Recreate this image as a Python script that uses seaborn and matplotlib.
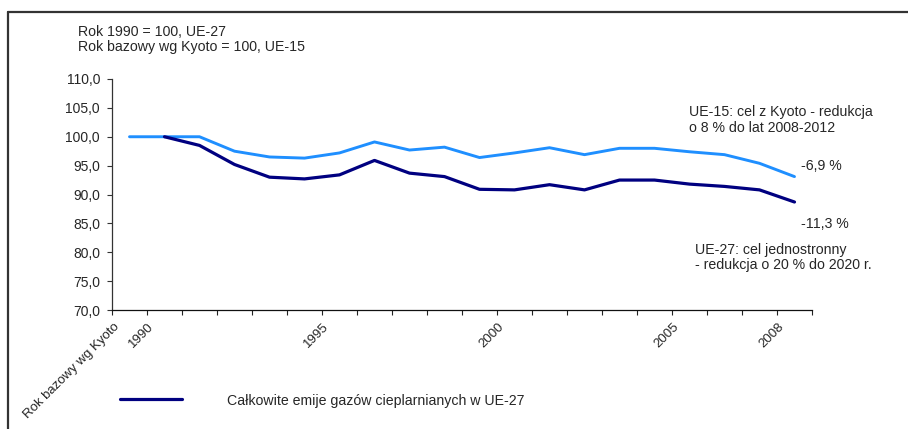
import matplotlib
matplotlib.use("Agg")
import matplotlib.pyplot as plt
import matplotlib.lines as mlines
import matplotlib.transforms as mtransforms
from matplotlib.ticker import FuncFormatter
import numpy as np
import pandas as pd
import seaborn as sns

# Category axis: Kyoto base year followed by 1990-2008
categories = ["Rok bazowy wg Kyoto"] + [str(y) for y in range(1990, 2009)]
shown_labels = ["Rok bazowy wg Kyoto", "1990", "1995", "2000", "2005", "2008"]

# Index values (base = 100)
ue15 = [100.0, 100.0, 100.0, 97.5, 96.5, 96.3, 97.2, 99.1, 97.7, 98.2,
        96.4, 97.2, 98.1, 96.9, 98.0, 98.0, 97.4, 96.9, 95.4, 93.1]
ue27 = [np.nan, 100.0, 98.5, 95.2, 93.0, 92.7, 93.4, 95.9, 93.7, 93.1,
        90.9, 90.8, 91.7, 90.8, 92.5, 92.5, 91.8, 91.4, 90.8, 88.7]

y_ticks = [70, 75, 80, 85, 90, 95, 100, 105, 110]

header_lines = ["Rok 1990 = 100, UE-27", "Rok bazowy wg Kyoto = 100, UE-15"]
note_ue15 = ["UE-15: cel z Kyoto - redukcja", "o 8 % do lat 2008-2012"]
note_ue27 = ["UE-27: cel jednostronny", "- redukcja o 20 % do 2020 r."]
end_ue15 = "-6,9 %"
end_ue27 = "-11,3 %"
legend_label = "Całkowite emije gazów cieplarnianych w UE-27"

COL_UE15 = "#1f8fff"
COL_UE27 = "#000080"

sns.set_style("white")
plt.rcParams["font.family"] = ["Liberation Sans", "DejaVu Sans"]
plt.rcParams["font.size"] = 9.5

W, H = 908, 429
fig = plt.figure(figsize=(W / 100, H / 100), dpi=100)
ax = fig.add_axes([112 / W, 1 - 310 / H, 700 / W, 231 / H])

df = pd.DataFrame({
    "pos": np.arange(len(categories)),
    "UE-15": ue15,
    "UE-27": ue27,
})
sns.lineplot(data=df, x="pos", y="UE-15", ax=ax, color=COL_UE15, linewidth=2.1)
sns.lineplot(data=df.dropna(), x="pos", y="UE-27", ax=ax, color=COL_UE27, linewidth=2.3)

n = len(categories)
ax.set_xlim(-0.5, n - 0.5)
ax.set_ylim(70, 110)
ax.set_xlabel("")
ax.set_ylabel("")

# y axis
ax.set_yticks(y_ticks)
ax.yaxis.set_major_formatter(FuncFormatter(lambda v, p: f"{v:.1f}".replace(".", ",")))
ax.tick_params(axis="y", direction="out", length=3.6, width=0.8, pad=5,
               color="#333333", labelsize=10, left=True)

# x axis: boundary tick marks, rotated labels at selected categories
ax.set_xticks(np.arange(-0.5, n, 1.0), minor=True)
label_pos = [categories.index(c) for c in shown_labels]
ax.set_xticks(label_pos)
ax.set_xticklabels(shown_labels, rotation=45, ha="right", va="top")
ax.tick_params(axis="x", which="major", length=0, pad=8, labelsize=9.5)
ax.tick_params(axis="x", which="minor", direction="out", length=3.6, width=0.8,
               color="#222222", bottom=True)
shift = mtransforms.ScaledTranslation(-8 / 100, 0, fig.dpi_scale_trans)
for lab in ax.get_xticklabels():
    lab.set_transform(lab.get_transform() + shift)

sns.despine(ax=ax, top=True, right=True)
ax.spines["left"].set_color("#333333")
ax.spines["left"].set_linewidth(0.9)
ax.spines["bottom"].set_color("#111111")
ax.spines["bottom"].set_linewidth(0.9)
ax.grid(False)

TXT = 10.2

# Header text
fig.text(78 / W, 1 - 32 / H, header_lines[0], va="center", ha="left", fontsize=TXT)
fig.text(78 / W, 1 - 47 / H, header_lines[1], va="center", ha="left", fontsize=TXT)

# Annotations on the right
fig.text(689 / W, 1 - 112 / H, note_ue15[0], va="center", ha="left", fontsize=TXT)
fig.text(689 / W, 1 - 128 / H, note_ue15[1], va="center", ha="left", fontsize=TXT)
fig.text(801 / W, 1 - 166 / H, end_ue15, va="center", ha="left", fontsize=TXT)
fig.text(801 / W, 1 - 224 / H, end_ue27, va="center", ha="left", fontsize=TXT)
fig.text(695 / W, 1 - 250 / H, note_ue27[0], va="center", ha="left", fontsize=TXT)
fig.text(695 / W, 1 - 265 / H, note_ue27[1], va="center", ha="left", fontsize=TXT)

# Legend entry
fig.add_artist(mlines.Line2D([120 / W, 182 / W], [1 - 399 / H, 1 - 399 / H],
                             color=COL_UE27, linewidth=2.3, transform=fig.transFigure))
fig.text(227 / W, 1 - 401 / H, legend_label, va="center", ha="left", fontsize=TXT)

# Chart frame (left and top edges)
fig.add_artist(mlines.Line2D([8 / W, 8 / W], [0, 1 - 12 / H], color="#333333",
                             linewidth=1.6, transform=fig.transFigure))
fig.add_artist(mlines.Line2D([8 / W, 1], [1 - 12 / H, 1 - 12 / H], color="#333333",
                             linewidth=1.6, transform=fig.transFigure))

fig.savefig("out.png", dpi=100)
